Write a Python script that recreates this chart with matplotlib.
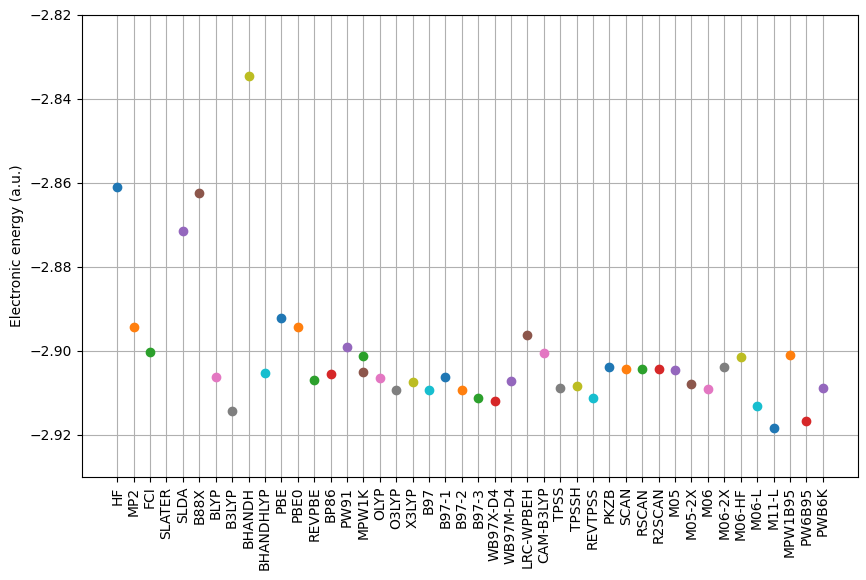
import numpy as np
import matplotlib.pyplot as plt

methods = ["HF", "MP2", "FCI", "SLATER", "SLDA", "B88X", "BLYP", "B3LYP", "BHANDH",
           "BHANDHLYP", "PBE", "PBE0", "REVPBE", "BP86", "PW91", "MPW1K", "OLYP",
           "O3LYP", "X3LYP", "B97", "B97-1", "B97-2", "B97-3", "WB97X-D4", "WB97M-D4",
           "LRC-WPBEH", "CAM-B3LYP", "TPSS", "TPSSH", "REVTPSS", "PKZB", "SCAN",
           "RSCAN", "R2SCAN", "M05", "M05-2X", "M06", "M06-2X", "M06-HF", "M06-L",
           "M11-L", "MPW1B95", "MPW1K", "PW6B95", "PWB6K"]
energies = [-2.8610, -2.8943, -2.9002, np.nan, -2.8714, -2.8624, -2.9062, -2.9143,
            -2.8345, -2.9052, -2.8921, -2.8943, -2.9069, -2.9055, -2.8990, -2.9050,
            -2.9064, -2.9093, -2.9074, -2.9093, -2.9062, -2.9093, -2.9112, -2.9119,
            -2.9071, -2.8962, -2.9005, -2.9088, -2.9083, -2.9112, -2.9038, -2.9043,
            -2.9043, -2.9043, -2.9045, -2.9079, -2.9090, -2.9038, -2.9014, -2.9131,
            -2.9183, -2.9010, -2.9012, -2.9167, -2.9088]

fig = plt.figure(figsize=(8.66, 5.8), dpi=100)
ax = fig.add_axes([82 / 866, 1 - 477 / 580, 776 / 866, 462 / 580])
for name, e in zip(methods, energies):
    ax.plot([name], [e], "o")
ax.set_ylim(-2.93, -2.82)
ax.set_ylabel("Electronic energy (a.u.)")
ax.tick_params(axis="x", rotation=90)
ax.grid(True)
fig.savefig("out.png", dpi=100)
